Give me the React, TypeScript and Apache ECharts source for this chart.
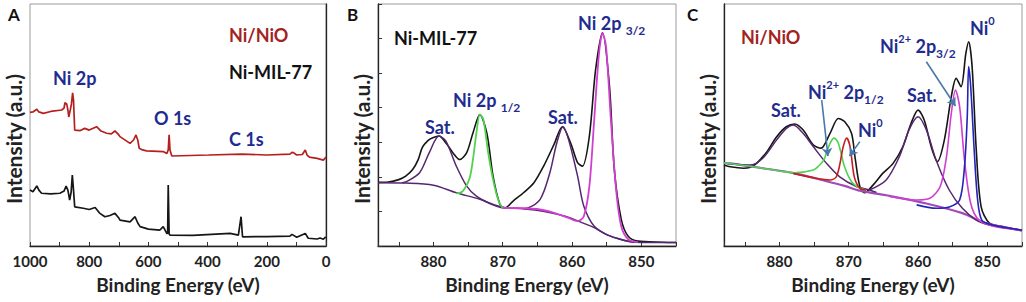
import React, { useEffect, useRef } from "react";
import * as echarts from "echarts";

type Pt = [number, number];

const FONT = "Lato, 'Open Sans', 'Liberation Sans', sans-serif";
const NAVY = "#1f2c8f";
const DARKRED = "#a3231f";
const BLACK = "#161616";
const PURPLE = "#55276f";
const GREEN = "#4fd24f";
const MAGENTA = "#d03fd0";
const BLUE = "#2424b8";
const RED = "#c21f1f";
const ARROW = "#4a78aa";

// ---------- Panel A : survey spectra ----------
const aTicks = [0, 200, 400, 600, 800, 1000];
const aNiNiO: Pt[] = [
  [1000, 55.2], [990, 55.4], [977, 56.5], [970, 55.4], [955, 54.8], [930, 55.6], [893, 56.2], [885, 57.0],
  [882, 59.2], [876, 58.7], [872, 56.2], [869, 53.3], [864, 56.2], [860, 58.7], [856, 63.3], [853, 60.3],
  [849, 47.9], [830, 47.7], [815, 48.6], [800, 47.9], [775, 49.3], [760, 47.5], [741, 46.6], [725, 46.3],
  [713, 47.6], [700, 45.9], [696, 45.2], [662, 42.4], [650, 43.8], [642, 45.9], [636, 43.8], [631, 40.4],
  [620, 39.7], [606, 39.3], [550, 39.0], [538, 38.2], [533, 39.7], [530, 45.9], [527, 39.7], [521, 37.2],
  [397, 37.6], [285, 38.0], [200, 37.6], [122, 38.0], [115, 38.7], [110, 38.6], [99, 37.6], [80, 37.8],
  [70, 39.7], [64, 37.6], [56, 36.7], [30, 36.2], [9, 35.5], [0, 36.7],
];
const aNiMIL: Pt[] = [
  [1000, 23.1], [990, 22.4], [977, 24.8], [970, 23.1], [961, 21.8], [930, 21.5], [899, 21.8], [885, 22.7],
  [878, 24.8], [872, 23.1], [866, 19.0], [861, 22.3], [857, 29.3], [853, 23.1], [849, 16.2], [820, 15.6],
  [800, 15.1], [780, 15.9], [765, 13.6], [747, 12.1], [730, 12.6], [713, 13.5], [700, 11.6], [696, 10.7],
  [662, 10.0], [645, 12.1], [636, 9.5], [628, 8.0], [600, 7.0], [561, 6.6], [550, 8.0], [538, 5.2],
  [535, 5.2], [533, 25.2], [530, 5.0], [527, 4.5], [450, 4.4], [324, 5.2], [296, 4.5], [287, 12.1],
  [282, 3.8], [200, 3.9], [122, 4.1], [115, 4.8], [99, 3.6], [70, 5.2], [60, 3.2], [30, 2.9], [20, 3.3],
  [9, 2.8], [1, 3.8], [0, 3.8],
];

// ---------- Panel B : Ni-MIL-77 Ni 2p ----------
const bExp: Pt[] = [
  [888, 1.84], [886.5, 1.85], [885, 1.92], [884, 2.02], [883, 2.21], [882.2, 2.5], [881.6, 2.85], [880.8, 3.05],
  [880.1, 3.13], [879.2, 3.18], [878.2, 2.98], [877.2, 2.7], [876.2, 2.5], [875.2, 2.7], [874.3, 3.27],
  [873.3, 3.8], [872.3, 3.27], [871.4, 2.02], [870.4, 1.2], [869.7, 1.1], [868.5, 1.3], [867, 1.54],
  [865.5, 1.83], [864.1, 2.31], [862.6, 2.94], [861.4, 3.45], [860.2, 2.98], [859.2, 2.41], [858.5, 2.31],
  [857.5, 3.18], [856.6, 5.1], [855.6, 6.17], [854.6, 4.62], [853.9, 2.21], [852.9, 0.77], [851.9, 0.28],
  [850.5, 0.14], [847, 0.11], [845, 0.1],
];
const bBg: Pt[] = [
  [888, 1.83], [884, 1.82], [880, 1.76], [876.7, 1.54], [873.3, 1.35], [870, 1.12], [867, 1.08], [864, 1.0],
  [861, 0.86], [858.5, 0.67], [856.8, 0.53], [855, 0.33], [853, 0.19], [851, 0.11], [845, 0.1],
];
const bSat1: Pt[] = [
  [884.5, 1.83], [883.9, 1.86], [882, 2.12], [880.6, 2.7], [879.2, 3.18], [878.2, 3.03], [876.7, 2.31],
  [875.2, 1.73], [873.8, 1.44], [871.8, 1.22], [870, 1.1],
];
const bP12: Pt[] = [
  [876.7, 1.52], [875.8, 1.58], [874.8, 1.95], [874.3, 2.5], [873.8, 3.27], [873.3, 3.8], [872.8, 3.66],
  [872.1, 2.7], [871.4, 1.92], [870.6, 1.3], [870, 1.1],
];
const bSat2: Pt[] = [
  [867, 1.08], [866.5, 1.09], [864.6, 1.35], [863.2, 2.12], [862.2, 2.98], [861.3, 3.45], [860.5, 3.08],
  [859.2, 2.02], [858.3, 1.15], [856.8, 0.57], [855, 0.33], [852.9, 0.19], [851, 0.11],
];
const bP32: Pt[] = [
  [870, 1.1], [865.1, 1.07], [862.6, 0.96], [860.6, 0.82], [859.2, 0.72], [858.3, 0.86], [857.5, 1.73],
  [856.8, 3.66], [856.1, 5.59], [855.6, 6.15], [855.1, 5.78], [854.4, 3.66], [853.6, 1.54], [852.9, 0.57],
  [851.9, 0.19], [850.5, 0.11],
];

// ---------- Panel C : Ni/NiO Ni 2p ----------
const cExp: Pt[] = [
  [888, 2.34], [887.1, 2.29], [885.2, 2.25], [884.2, 2.28], [883.3, 2.39], [881.8, 2.73], [880.4, 3.16],
  [879, 3.45], [877.8, 3.53], [876.6, 3.36], [875.1, 2.92], [874, 2.83], [872.7, 3.26], [871.5, 3.69],
  [870.6, 3.6], [869.6, 3.26], [869.1, 2.58], [868.4, 1.72], [867.7, 1.54], [866.5, 1.76], [865.1, 2.1],
  [863.6, 2.39], [862.2, 2.87], [861, 3.55], [860, 3.93], [859.1, 3.64], [858.1, 2.87], [857.2, 2.44],
  [856.2, 3.07], [855.2, 4.32], [854.5, 4.85], [853.8, 4.61], [853.1, 5.57], [852.7, 5.91], [852.2, 5.19],
  [851.6, 2.78], [850.9, 1.14], [849.7, 0.66], [847.8, 0.56], [845.4, 0.46], [845, 0.45],
];
const cBg: Pt[] = [
  [888, 2.4], [887.1, 2.39], [882.4, 2.25], [877.8, 2.1], [873.9, 1.91], [870.6, 1.74], [868.4, 1.6],
  [863.6, 1.43], [858.8, 1.23], [853.6, 0.95], [850.8, 0.7], [848, 0.56], [845, 0.45],
];
const cSat1: Pt[] = [
  [887.5, 2.38], [884.3, 2.34], [882.4, 2.54], [880.4, 3.07], [879, 3.4], [878, 3.5], [876.6, 3.26],
  [875.1, 2.87], [873.2, 2.39], [871.3, 2.0], [868.9, 1.72], [867, 1.62], [866, 1.55],
];
const cNi2p12: Pt[] = [
  [888, 2.4], [884, 2.3], [880, 2.17], [877.8, 2.12], [875.1, 2.2], [874.3, 2.32], [873.6, 2.49],
  [872.7, 2.97], [872.1, 3.12], [871.5, 2.97], [870.6, 2.29], [869.6, 1.86], [868.4, 1.67], [867.5, 1.62],
];
const cNi0p12: Pt[] = [
  [878, 2.1], [874.7, 1.96], [872.7, 1.91], [871.8, 2.0], [871.3, 2.35], [870.8, 2.87], [870.3, 3.12],
  [869.8, 2.87], [869.2, 2.0], [868.4, 1.67], [867.5, 1.62],
];
const cSat2: Pt[] = [
  [867, 1.62], [864.6, 1.91], [862.7, 2.58], [861.3, 3.36], [860, 3.74], [858.8, 3.36], [857.4, 2.49],
  [855.5, 1.62], [853.6, 1.09], [851.6, 0.75], [849.7, 0.61], [845, 0.46],
];
const cNi2p32: Pt[] = [
  [864.1, 1.43], [860.2, 1.33], [858.3, 1.38], [856.8, 1.72], [855.9, 2.58], [855.2, 3.84], [854.6, 4.51],
  [854, 4.03], [853.3, 2.49], [852.4, 1.23], [851.2, 0.75], [848.8, 0.56], [845, 0.46],
];
const cNi0p32: Pt[] = [
  [860.2, 1.19], [857.4, 1.09], [855.5, 1.13], [854, 1.33], [853.3, 2.29], [852.9, 3.74], [852.7, 5.19],
  [852.4, 4.61], [851.9, 2.78], [851.4, 1.33], [850.8, 0.75], [849.3, 0.61], [845, 0.46],
];
// arrows in panel C: [fromE, fromI, toE, toI]
const cArrows: [number, number, number, number][] = [
  [873.9, 4.22, 873.0, 2.6],
  [868.4, 3.02, 869.9, 2.6],
  [858.8, 5.33, 854.6, 4.05],
];

const axisLabel = (fmt: (v: number) => string) => ({
  formatter: fmt,
  fontSize: 15,
  fontWeight: "bold",
  fontFamily: FONT,
  color: "#222",
  margin: 7,
});

const nameStyle = { fontSize: 19, fontWeight: "bold", fontFamily: FONT, color: "#222" };

const xAxisFor = (gridIndex: number, min: number, max: number, interval: number, labelEvery: number) => ({
  gridIndex,
  type: "value",
  min,
  max,
  interval,
  inverse: true,
  name: "Binding Energy (eV)",
  nameLocation: "middle",
  nameGap: 29,
  nameTextStyle: nameStyle,
  axisLine: { show: true, lineStyle: { color: "#222", width: 1.3 } },
  axisTick: { show: true, inside: true, length: 4, lineStyle: { color: "#333", width: 1 } },
  axisLabel: axisLabel((v: number) => (v % labelEvery === 0 ? String(v) : "")),
  splitLine: { show: false },
});

const yAxisFor = (gridIndex: number, max: number, ticks: boolean) => ({
  gridIndex,
  type: "value",
  min: 0,
  max,
  interval: 1,
  axisLine: { show: true, lineStyle: { color: "#222", width: 1.3 } },
  axisTick: { show: ticks, inside: true, length: 4, lineStyle: { color: "#333" } },
  axisLabel: { show: false },
  splitLine: { show: false },
});

const line = (data: Pt[], color: string, idx: number, width = 1.5, smooth: number | boolean = 0.3, z = 3) => ({
  type: "line",
  data,
  xAxisIndex: idx,
  yAxisIndex: idx,
  showSymbol: false,
  symbol: "none",
  smooth,
  silent: true,
  z,
  lineStyle: { color, width },
});

const rich = (fill: string) => ({
  m: { font: `bold 18px ${FONT}`, fill, lineHeight: 26, verticalAlign: "middle" },
  sub: { font: `bold 12px ${FONT}`, fill, lineHeight: 14, verticalAlign: "bottom" },
  sup: { font: `bold 11px ${FONT}`, fill, lineHeight: 12, verticalAlign: "top" },
});

const t = (text: string, x: number, y: number, fill: string, size = 18) => ({
  type: "text",
  x,
  y,
  silent: true,
  style: {
    text,
    fill,
    font: `bold ${size}px ${FONT}`,
    textAlign: "left",
    textVerticalAlign: "middle",
    align: "left",
    verticalAlign: "middle",
  },
});

const rt = (text: string, x: number, y: number, fill: string) => ({
  type: "text",
  x,
  y,
  silent: true,
  style: {
    text,
    rich: rich(fill),
    textAlign: "left",
    textVerticalAlign: "middle",
    align: "left",
    verticalAlign: "middle",
  },
});

const yTitle = (x: number) => ({
  type: "text",
  x,
  y: 139,
  rotation: Math.PI / 2,
  silent: true,
  style: {
    text: "Intensity (a.u.)",
    fill: "#222",
    font: `bold 21px ${FONT}`,
    textAlign: "center",
    textVerticalAlign: "middle",
    align: "center",
    verticalAlign: "middle",
  },
});

export default function App() {
  const ref = useRef<HTMLDivElement>(null);
  useEffect(() => {
    const chart = echarts.init(ref.current!, null, { renderer: "svg" });
    const gridBase = { show: true, borderColor: "#9a9a9a", borderWidth: 1, backgroundColor: "transparent" };
    chart.setOption({
      animation: false,
      backgroundColor: "#fff",
      grid: [
        { ...gridBase, left: 30, top: 4, width: 296, height: 242 },
        { ...gridBase, left: 378, top: 4, width: 298, height: 242 },
        { ...gridBase, left: 724, top: 4, width: 298, height: 242 },
      ],
      xAxis: [
        xAxisFor(0, aTicks[0], aTicks[aTicks.length - 1], 100, 200),
        xAxisFor(1, 845, 888, 5, 10),
        xAxisFor(2, 845, 888, 5, 10),
      ],
      yAxis: [
        { ...yAxisFor(0, 100, false), interval: 10 },
        yAxisFor(1, 7, true),
        yAxisFor(2, 7, false),
      ],
      series: [
        line(aNiNiO, "#b5201e", 0, 1.7, false),
        line(aNiMIL, BLACK, 0, 1.7, false),

        line(bExp, BLACK, 1, 1.6, 0.3, 2),
        line(bBg, PURPLE, 1, 1.5),
        line(bSat1, PURPLE, 1, 1.5),
        line(bP12, GREEN, 1, 1.8),
        line(bSat2, PURPLE, 1, 1.5),
        line(bP32, MAGENTA, 1, 1.8),

        line(cExp, BLACK, 2, 1.6, 0.3, 2),
        {
          ...line(cBg, "#a24ab8", 2, 2.2),
          markLine: {
            silent: true,
            symbol: ["none", "arrow"],
            symbolSize: 8,
            label: { show: false },
            lineStyle: { color: ARROW, width: 1.6, type: "solid" },
            data: cArrows.map(([e1, i1, e2, i2]) => [{ coord: [e1, i1] }, { coord: [e2, i2] }]),
          },
        },
        line(cSat1, PURPLE, 2, 1.5),
        line(cNi2p12, GREEN, 2, 1.6),
        line(cNi0p12, RED, 2, 1.6),
        line(cSat2, PURPLE, 2, 1.5),
        line(cNi2p32, MAGENTA, 2, 1.6),
        line(cNi0p32, BLUE, 2, 1.6),
      ],
      graphic: [
        t("A", 8, 14, "#111", 17),
        t("B", 347, 14, "#111", 17),
        t("C", 687, 14, "#111", 17),
        yTitle(13),
        yTitle(361),
        yTitle(707),
        // panel A
        t("Ni/NiO", 229, 35, DARKRED),
        t("Ni-MIL-77", 229, 72, "#111"),
        t("Ni 2p", 53, 78, NAVY),
        t("O 1s", 154, 118, NAVY),
        t("C 1s", 229, 139, NAVY),
        // panel B
        t("Ni-MIL-77", 394, 38, "#111"),
        t("Sat.", 425, 127, NAVY),
        rt("{m|Ni 2p }{sub|1/2}", 453, 100, NAVY),
        t("Sat.", 548, 117, NAVY),
        rt("{m|Ni 2p }{sub|3/2}", 578, 23, NAVY),
        // panel C
        t("Ni/NiO", 741, 37, DARKRED),
        t("Sat.", 771, 110, NAVY),
        rt("{m|Ni}{sup|2+}{m| 2p}{sub|1/2}", 808, 92, NAVY),
        rt("{m|Ni}{sup|0}", 858, 130, NAVY),
        t("Sat.", 907, 95, NAVY),
        rt("{m|Ni}{sup|2+}{m| 2p}{sub|3/2}", 880, 46, NAVY),
        rt("{m|Ni}{sup|0}", 970, 28, NAVY),
      ],
    });
    return () => chart.dispose();
  }, []);
  return (
    <div
      ref={ref}
      style={{ position: "fixed", left: 0, top: 0, width: 1026, height: 302, background: "#fff" }}
    />
  );
}
